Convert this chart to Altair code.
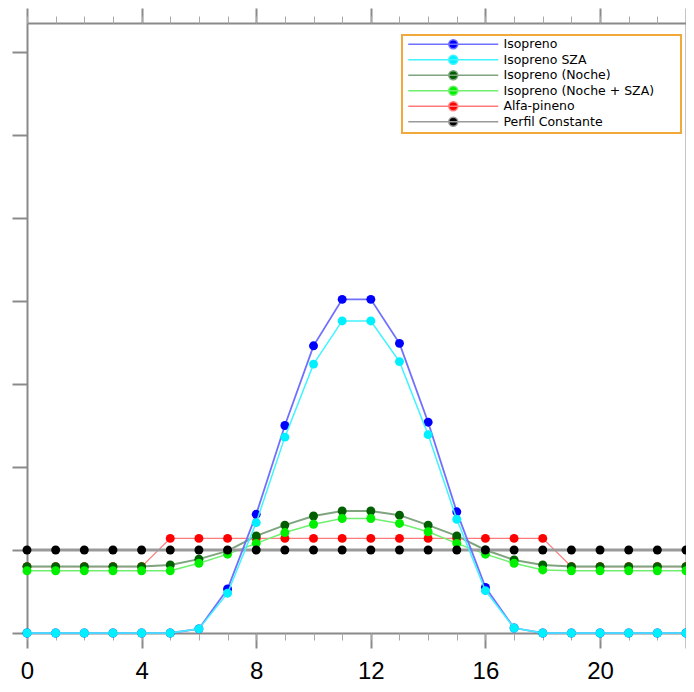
import altair as alt
import pandas as pd

# ---------------- data ----------------
hours = list(range(24))

isopreno = [0, 0, 0, 0, 0, 0, 0.05, 0.53, 1.43, 2.50, 3.46, 4.02,
            4.02, 3.49, 2.54, 1.46, 0.55, 0.06, 0, 0, 0, 0, 0, 0]
isopreno_sza = [0, 0, 0, 0, 0, 0, 0.05, 0.48, 1.33, 2.36, 3.24, 3.76,
                3.76, 3.27, 2.39, 1.37, 0.51, 0.06, 0, 0, 0, 0, 0, 0]
isopreno_noche = [0.80, 0.80, 0.80, 0.80, 0.80, 0.82, 0.89, 0.99, 1.17, 1.30, 1.41, 1.47,
                  1.47, 1.42, 1.30, 1.17, 1.00, 0.88, 0.82, 0.80, 0.80, 0.80, 0.80, 0.80]
isopreno_noche_sza = [0.75, 0.75, 0.75, 0.75, 0.75, 0.75, 0.84, 0.95, 1.08, 1.21, 1.31, 1.38,
                      1.38, 1.32, 1.22, 1.08, 0.95, 0.84, 0.76, 0.75, 0.75, 0.75, 0.75, 0.75]
alfa_pineno = [0.80, 0.80, 0.80, 0.80, 0.80, 1.14, 1.14, 1.14, 1.14, 1.14, 1.14, 1.14,
               1.14, 1.14, 1.14, 1.14, 1.14, 1.14, 1.14, 0.80, 0.80, 0.80, 0.80, 0.80]
perfil_constante = [1.0] * 24

series_names = ["Isopreno", "Isopreno SZA", "Isopreno (Noche)",
                "Isopreno (Noche + SZA)", "Alfa-pineno", "Perfil Constante"]
series_values = [isopreno, isopreno_sza, isopreno_noche,
                 isopreno_noche_sza, alfa_pineno, perfil_constante]

marker_colors = ["#0000ff", "#00f0ff", "#005f00", "#00f000", "#ff0000", "#000000"]
line_colors = ["#7070ff", "#40f4ff", "#7fa47f", "#6ef06e", "#ff7a7a", "#9a9a9a"]
line_widths = [1.8, 1.5, 2.0, 1.5, 1.2, 2.8]
draw_order = ["Alfa-pineno", "Isopreno (Noche)", "Isopreno (Noche + SZA)",
              "Perfil Constante", "Isopreno", "Isopreno SZA"]

x_major = [0, 4, 8, 12, 16, 20, 23]
x_minor = list(range(24))
y_ticks = list(range(8))

rows = []
for name, vals in zip(series_names, series_values):
    for h, v in zip(hours, vals):
        rows.append({"hora": h, "valor": v, "serie": name})
df = pd.DataFrame(rows)

# ---------------- scales ----------------
x_scale = alt.Scale(domain=[0, 23], nice=False, zero=False)
y_scale = alt.Scale(domain=[0, 7.35], nice=False, zero=False)
stroke_scale = alt.Scale(domain=series_names, range=line_colors)
fill_scale = alt.Scale(domain=series_names, range=marker_colors)

GRAY = "#8a8a8a"
x_bottom_major = alt.Axis(orient="bottom", values=x_major, tickSize=15, tickWidth=2,
                          tickColor=GRAY, domainColor=GRAY, domainWidth=2, grid=False,
                          title=None, labelExpr="datum.value == 23 ? '' : datum.label",
                          labelFont="Liberation Sans", labelFontSize=24, labelColor="#000000",
                          labelBaseline="alphabetic", labelPadding=30,
                          labelFlush=False, labelOverlap=False)
x_top_major = alt.Axis(orient="top", values=x_major, tickSize=15, tickWidth=2,
                       tickColor=GRAY, domainColor=GRAY, domainWidth=2, grid=False,
                       title=None, labels=False)
x_bottom_minor = alt.Axis(orient="bottom", values=x_minor, tickSize=7, tickWidth=1,
                          tickColor="#a8a8a8", domain=False, grid=False, title=None,
                          labels=False)
x_top_minor = alt.Axis(orient="top", values=x_minor, tickSize=7, tickWidth=1,
                       tickColor="#a8a8a8", domain=False, grid=False, title=None,
                       labels=False)
y_left = alt.Axis(orient="left", values=y_ticks, tickSize=15, tickWidth=2,
                  tickColor=GRAY, domainColor=GRAY, domainWidth=2, grid=False,
                  title=None, labels=False)
y_right = alt.Axis(orient="right", values=y_ticks, tickSize=15, tickWidth=2,
                   tickColor=GRAY, domainColor=GRAY, domainWidth=2, grid=False,
                   title=None, labels=False)

# legend symbol: a short line with a dot in the middle; the final move-to only
# widens the entry bounds so that the legend frame gets the reference's width
legend_symbol = ("M-9,0L9,0M-0.9,0A0.9,0.9,0,1,1,0.9,0A0.9,0.9,0,1,1,-0.9,0Z"
                 "M44.2,0")


def make_legend():
    return alt.Legend(title=None, orient="none", legendX=375, legendY=12,
                      symbolType=legend_symbol, symbolSize=100, symbolStrokeWidth=1.5,
                      symbolOffset=42, labelOffset=44, labelFont="DejaVu Sans",
                      labelFontSize=12.5, labelColor="#000000", labelLimit=400,
                      rowPadding=-0.5, padding=3, strokeColor="#f2a93b",
                      fillColor="#ffffff")


line_axes = [(x_bottom_major, y_left), (x_bottom_minor, None)]
point_axes = [(x_top_major, y_right), (x_top_minor, None)]

layers = []
for i, name in enumerate(draw_order):
    k = series_names.index(name)
    base = alt.Chart(df).transform_filter(alt.datum.serie == name)

    xa, ya = line_axes[i] if i < len(line_axes) else (None, None)
    line = base.mark_line(strokeWidth=line_widths[k], clip=False).encode(
        x=alt.X("hora:Q", scale=x_scale, axis=xa),
        y=alt.Y("valor:Q", scale=y_scale, axis=ya),
        stroke=alt.Stroke("serie:N", scale=stroke_scale,
                          legend=make_legend() if i == 0 else None),
    )

    xa, ya = point_axes[i] if i < len(point_axes) else (None, None)
    pts = base.mark_point(filled=True, size=80, opacity=1, strokeWidth=0, clip=False).encode(
        x=alt.X("hora:Q", scale=x_scale, axis=xa),
        y=alt.Y("valor:Q", scale=y_scale, axis=ya),
        fill=alt.Fill("serie:N", scale=fill_scale,
                      legend=make_legend() if i == 0 else None),
    )
    layers += [line, pts]

chart = alt.layer(*layers).resolve_axis(x="independent", y="independent").properties(
    width=659, height=610,
    padding={"left": 19, "top": 15, "right": 0, "bottom": 51},
    autosize=alt.AutoSizeParams(type="none"),
    background="#ffffff",
).configure_view(strokeWidth=0).configure_legend(strokeWidth=2)

chart.save("out.html", embed_options={"renderer": "svg", "actions": False})
